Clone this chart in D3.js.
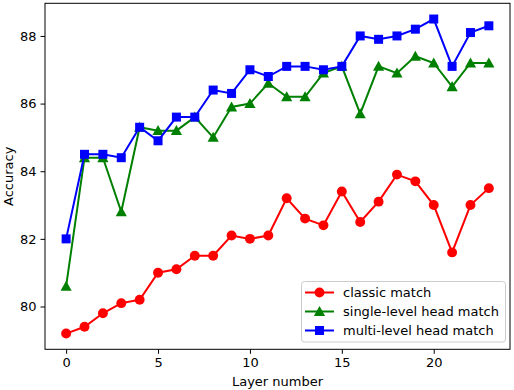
<!DOCTYPE html>
<html><head><meta charset="utf-8">
<script src="https://cdn.jsdelivr.net/npm/d3@7"></script>
<style>body{margin:0;background:#fff}svg{display:block}text{font-family:"DejaVu Sans",sans-serif}</style>
</head><body>
<script>
const layers = d3.range(0, 24);
const classicMatch = [79.2,79.4,79.8,80.1,80.2,81.0,81.1,81.5,81.5,82.1,82.0,82.1,83.2,82.6,82.4,83.4,82.5,83.1,83.9,83.7,83.0,81.6,83.0,83.5];
const singleLevel = [80.6,84.4,84.4,82.8,85.3,85.2,85.2,85.6,85.0,85.9,86.0,86.6,86.2,86.2,86.9,87.1,85.7,87.1,86.9,87.4,87.2,86.5,87.2,87.2];
const multiLevel = [82.0,84.5,84.5,84.4,85.3,84.9,85.6,85.6,86.4,86.3,87.0,86.8,87.1,87.1,87.0,87.1,88.0,87.9,88.0,88.2,88.5,87.1,88.1,88.3];
const xTicks = [0,5,10,15,20];
const yTicks = [80,82,84,86,88];
const seriesNames = ["classic match","single-level head match","multi-level head match"];
const seriesColors = ["#ff0000","#008000","#0000ff"];
const seriesMarkers = ["circle","triangle","square"];

const W=514,H=390;
const L=45,R=510,T=3.3,B=349.3;
const svg=d3.select("body").append("svg").attr("width",W).attr("height",H);
const all=[...classicMatch,...singleLevel,...multiLevel];
const ymin=d3.min(all), ymax=d3.max(all), pad=(ymax-ymin)*0.05;
const x=d3.scaleLinear().domain([-1.15,24.15]).range([L,R]);
const y=d3.scaleLinear().domain([ymin-pad,ymax+pad]).range([B,T]);

const fs=13;
const xa=svg.append("g").attr("transform",`translate(0,${B})`).call(d3.axisBottom(x).tickValues(xTicks).tickSize(4.5).tickPadding(4));
const ya=svg.append("g").attr("transform",`translate(${L},0)`).call(d3.axisLeft(y).tickValues(yTicks).tickSize(4.5).tickPadding(4));
[xa,ya].forEach(a=>{a.select(".domain").remove();a.selectAll("text").attr("font-size",fs).attr("font-family","DejaVu Sans").attr("fill","#000");a.selectAll("line").attr("stroke","#000").attr("stroke-width",1);});

svg.append("text").attr("x",(L+R)/2).attr("y",386).attr("text-anchor","middle").attr("font-size",fs).text("Layer number");
svg.append("text").attr("transform",`translate(13,${(T+B)/2}) rotate(-90)`).attr("text-anchor","middle").attr("font-size",fs).text("Accuracy");

const data=[classicMatch,singleLevel,multiLevel];
const clip=svg.append("clipPath").attr("id","c").append("rect").attr("x",L).attr("y",T).attr("width",R-L).attr("height",B-T);
const plot=svg.append("g");
const line=d3.line().x((d,i)=>x(layers[i])).y(d=>y(d));
function marker(g,type,cx,cy,color,s){
  if(type==="circle") g.append("circle").attr("cx",cx).attr("cy",cy).attr("r",s*0.55).attr("fill",color);
  else if(type==="square") g.append("rect").attr("x",cx-s/2).attr("y",cy-s/2).attr("width",s).attr("height",s).attr("fill",color);
  else { const r=s*0.62; g.append("path").attr("d",`M${cx},${cy-r}L${cx+r},${cy+r*0.8}L${cx-r},${cy+r*0.8}Z`).attr("fill",color);}
}
data.forEach((vals,k)=>{
  const g=plot.append("g");
  g.append("path").attr("d",line(vals)).attr("fill","none").attr("stroke",seriesColors[k]).attr("stroke-width",2);
  vals.forEach((v,i)=>marker(g,seriesMarkers[k],x(layers[i]),y(v),seriesColors[k],9));
});

svg.append("rect").attr("x",L).attr("y",T).attr("width",R-L).attr("height",B-T).attr("fill","none").attr("stroke","#000").attr("stroke-width",1);

// legend
const lg=svg.append("g");
lg.append("rect").attr("x",301.5).attr("y",281.5).attr("width",204).attr("height",60.5).attr("rx",3).attr("fill","#fff").attr("fill-opacity",0.8).attr("stroke","#cccccc").attr("stroke-width",1);
const rowY=[292.5,311.5,330.5];
seriesNames.forEach((n,k)=>{
  lg.append("line").attr("x1",305).attr("x2",334).attr("y1",rowY[k]).attr("y2",rowY[k]).attr("stroke",seriesColors[k]).attr("stroke-width",2);
  marker(lg,seriesMarkers[k],319.5,rowY[k],seriesColors[k],9);
  lg.append("text").attr("x",343).attr("y",rowY[k]).attr("dy","0.35em").attr("font-size",fs).text(n);
});
</script>
</body></html>
